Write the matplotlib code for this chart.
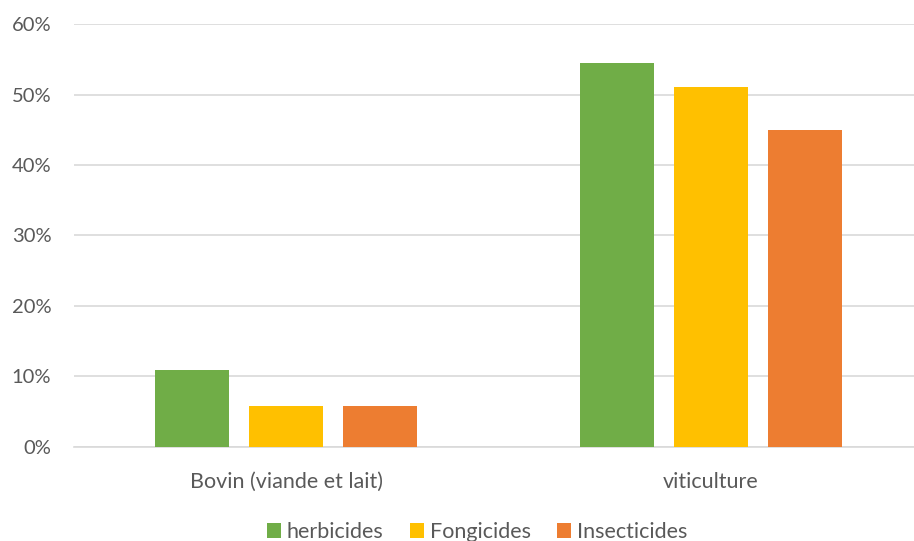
import matplotlib.pyplot as plt
import numpy as np
from matplotlib.ticker import PercentFormatter

plt.rcParams['font.family'] = ['Lato', 'DejaVu Sans']

categories = ['Bovin (viande et lait)', 'viticulture']
series = ['herbicides', 'Fongicides', 'Insecticides']
herbicides = [10.9, 54.4]
fongicides = [5.8, 51.1]
insecticides = [5.8, 45.0]
colors = ['#70ad47', '#ffc000', '#ed7d31']

values = [herbicides, fongicides, insecticides]

fig = plt.figure(figsize=(9.14, 5.41), dpi=100)
# plot area runs a little past the right edge of the picture
ax = fig.add_axes([0.0805, 0.1738, 0.930, 0.7818])

x = np.arange(len(categories))
width = 0.174
step = 0.221
for i, (name, vals) in enumerate(zip(series, values)):
    ax.bar(x + (i - 1) * step, vals, width, color=colors[i], label=name, zorder=3)

ax.set_xlim(-0.5, 1.5)
ax.set_ylim(0, 60)
ax.set_yticks(range(0, 61, 10))
ax.yaxis.set_major_formatter(PercentFormatter(decimals=0))
ax.yaxis.grid(True, color='#d9d9d9', linewidth=1.2, zorder=0)
for s in ['top', 'right', 'left']:
    ax.spines[s].set_visible(False)
ax.spines['bottom'].set_color('#d9d9d9')
ax.spines['bottom'].set_linewidth(1.2)

ax.set_xticks(x)
ax.set_xticklabels(categories)
ax.tick_params(axis='both', length=0, colors='#595959')
ax.tick_params(axis='x', pad=18, labelsize=15.5)
ax.tick_params(axis='y', pad=16, labelsize=14.5)

leg = fig.legend(loc='lower center', bbox_to_anchor=(0.522, -0.038), ncol=3, frameon=False,
                 fontsize=15.5, handlelength=0.65, handleheight=0.65, handletextpad=0.3,
                 columnspacing=1.2)
for t in leg.get_texts():
    t.set_color('#595959')

fig.savefig('out.png', dpi=100)
